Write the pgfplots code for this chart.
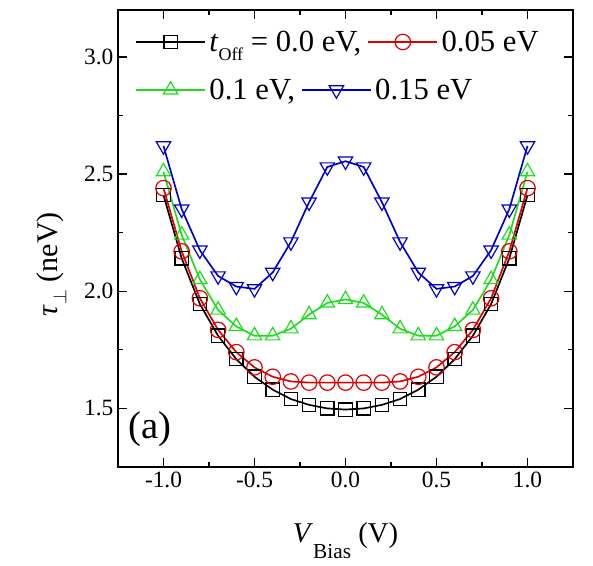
\documentclass[border=0pt]{standalone}
\usepackage{pgfplots}
\pgfplotsset{compat=1.18}
\usepackage{fontspec}
\setmainfont{Liberation Serif}
\definecolor{cblack}{RGB}{0,0,0}
\definecolor{cred}{RGB}{225,0,0}
\definecolor{cgreen}{RGB}{30,220,30}
\definecolor{cblue}{RGB}{0,0,205}
\newcommand{\LF}{\fontsize{23}{25}\selectfont}
\pgfplotsset{
  common/.style={
    scale only axis,
    width=341.25pt, height=342.75pt,
    xmin=-1.25, xmax=1.25, ymin=1.25, ymax=3.2,
    legend image code/.code={%
      \draw[mark repeat=2,mark phase=2] plot coordinates {(0pt,0pt) (26pt,0pt) (52pt,0pt)};},
    legend style={draw=none, fill=none, inner sep=0pt, anchor=west,
      nodes={inner sep=2.5pt, font=\LF},
      /tikz/every even column/.append style={column sep=2pt}},
    legend columns=2,
    legend cell align=left,
  },
  sblack/.style={cblack, line width=1.25pt, mark=square, mark size=5pt, mark options={solid, line width=0.9pt, fill=white}},
  sred/.style={cred, line width=1.25pt, mark=o, mark size=5.8pt, mark options={solid, line width=0.9pt, fill=white}},
  sgreen/.style={cgreen, line width=1.25pt, mark=triangle, mark size=6.2pt, mark options={solid, line width=0.9pt, fill=white}},
  sblue/.style={cblue, line width=1.25pt, mark=triangle, mark size=6.2pt, mark options={solid, line width=0.9pt, fill=white, rotate=180}},
}
\begin{document}
\begin{tikzpicture}
\begin{axis}[
  common,
  xtick={-1,-0.5,0,0.5,1},
  ytick={1.5,2.0,2.5,3.0},
  minor xtick={-1.25,-0.75,-0.25,0.25,0.75,1.25},
  minor ytick={1.25,1.75,2.25,2.75},
  xticklabel style={/pgf/number format/.cd,fixed,fixed zerofill,precision=1},
  yticklabel style={/pgf/number format/.cd,fixed,fixed zerofill,precision=1},
  /pgf/number format/assume math mode=true,
  ticklabel style={font=\fontsize{17.5}{19}\selectfont},
  tick align=inside,
  major tick length=6.5pt, minor tick length=4pt,
  every tick/.style={line width=1pt, black},
  axis line style={line width=2pt},
  xlabel={\fontsize{21.5}{24}\selectfont\textit{V}\raisebox{-12pt}{\fontsize{16}{18}\selectfont Bias} (V)},
  ylabel={\fontsize{22.5}{24}\selectfont\textit{τ}\raisebox{-7pt}{\fontsize{14}{16}\selectfont$\perp$} (neV)},
  xlabel style={at={(axis description cs:0.5,0)}, anchor=base, yshift=-57pt},
  ylabel style={at={(axis description cs:-0.134,0.444)}, anchor=base},
  legend style={at={(0.037,0.93)}},
]
\addplot[sblack] coordinates {
(-1.0,2.41) (-0.9,2.14) (-0.8,1.945) (-0.7,1.81) (-0.6,1.71) (-0.5,1.635) (-0.4,1.58) (-0.3,1.54) (-0.2,1.515) (-0.1,1.50) (0.0,1.495)
(0.1,1.50) (0.2,1.515) (0.3,1.54) (0.4,1.58) (0.5,1.635) (0.6,1.71) (0.7,1.81) (0.8,1.945) (0.9,2.14) (1.0,2.41)};
\addlegendentry{\LF\textit{t}\raisebox{-0.3em}{\fontsize{13.5}{15}\selectfont Off} = 0.0 eV,}
\addplot[sred] coordinates {
(-1.0,2.44) (-0.9,2.17) (-0.8,1.97) (-0.7,1.835) (-0.6,1.74) (-0.5,1.675) (-0.4,1.635) (-0.3,1.615) (-0.2,1.61) (-0.1,1.61) (0.0,1.61)
(0.1,1.61) (0.2,1.61) (0.3,1.615) (0.4,1.635) (0.5,1.675) (0.6,1.74) (0.7,1.835) (0.8,1.97) (0.9,2.17) (1.0,2.44)};
\addlegendentry{\LF 0.05 eV}
\addplot[sgreen, forget plot] coordinates {
(-1.0,2.51) (-0.9,2.24) (-0.8,2.05) (-0.7,1.92) (-0.6,1.85) (-0.5,1.81) (-0.4,1.81) (-0.3,1.84) (-0.2,1.90) (-0.1,1.95) (0.0,1.965)
(0.1,1.95) (0.2,1.90) (0.3,1.84) (0.4,1.81) (0.5,1.81) (0.6,1.85) (0.7,1.92) (0.8,2.05) (0.9,2.24) (1.0,2.51)};
\addplot[sblue, forget plot] coordinates {
(-1.0,2.62) (-0.9,2.35) (-0.8,2.175) (-0.7,2.065) (-0.6,2.02) (-0.5,2.01) (-0.4,2.08) (-0.3,2.21) (-0.2,2.38) (-0.1,2.53) (0.0,2.555)
(0.1,2.53) (0.2,2.38) (0.3,2.21) (0.4,2.08) (0.5,2.01) (0.6,2.02) (0.7,2.065) (0.8,2.175) (0.9,2.35) (1.0,2.62)};
\node[anchor=south west, font=\fontsize{29}{32}\selectfont, inner sep=0pt] at (rel axis cs:0.022,0.044) {(a)};
\end{axis}
\begin{axis}[
  common,
  hide axis,
  legend style={at={(0.037,0.825)}},
]
\addlegendimage{sgreen}
\addlegendentry{\LF 0.1 eV,}
\addlegendimage{sblue}
\addlegendentry{\LF 0.15 eV}
\end{axis}
\path (current axis.south west) ++(-88.5pt,-74.25pt) rectangle ([shift={(15pt,7.5pt)}]current axis.north east);
\end{tikzpicture}
\end{document}
